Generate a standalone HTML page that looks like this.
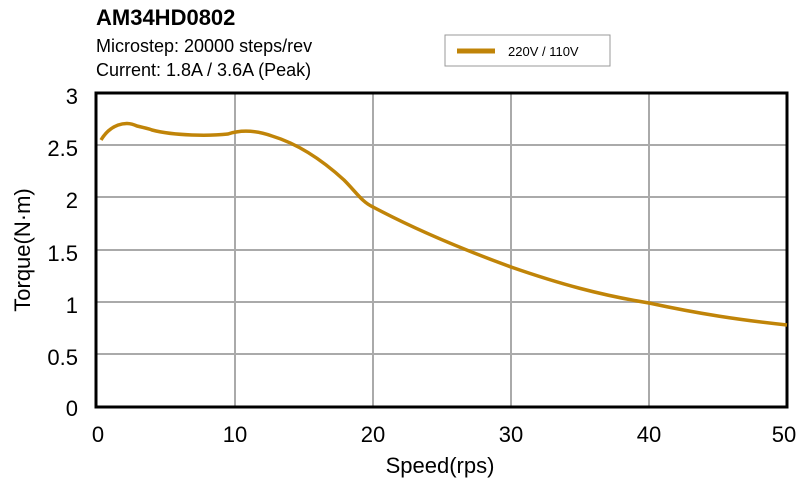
<!DOCTYPE html>
<html><head><style>body{margin:0;background:#fff}</style></head><body>
<svg width="800" height="488" xmlns="http://www.w3.org/2000/svg" font-family="Liberation Sans, sans-serif">
<rect width="800" height="488" fill="#fff"/>
<text x="96" y="25" font-size="22" font-weight="bold">AM34HD0802</text>
<text x="96" y="52" font-size="18">Microstep: 20000 steps/rev</text>
<text x="96" y="76" font-size="18">Current: 1.8A / 3.6A (Peak)</text>
<rect x="445" y="35" width="165" height="31" fill="#fff" stroke="#999" stroke-width="1"/>
<line x1="457" y1="51" x2="495" y2="51" stroke="#c08408" stroke-width="5"/>
<text x="508" y="56" font-size="13">220V / 110V</text>
<g stroke="#aaa" stroke-width="2">
<line x1="235" y1="93" x2="235" y2="407"/><line x1="373" y1="93" x2="373" y2="407"/>
<line x1="511" y1="93" x2="511" y2="407"/><line x1="649" y1="93" x2="649" y2="407"/>
<line x1="97" y1="145" x2="787" y2="145"/><line x1="97" y1="197" x2="787" y2="197"/>
<line x1="97" y1="250" x2="787" y2="250"/><line x1="97" y1="302" x2="787" y2="302"/>
<line x1="97" y1="354" x2="787" y2="354"/>
</g>
<rect x="96" y="93" width="691" height="314" fill="none" stroke="#000" stroke-width="3"/>
<path d="M101,140 C110,125 125,120 137,126 C145,128 150,129 152,130 C175,136 210,136 228,134 C240,130 255,130 272,136 C295,143 320,158 344,180 C356,192 362,202 373,207 C420,232 470,252 511,267 C560,284 600,295 649,303 C700,314 740,320 787,325" fill="none" stroke="#c08408" stroke-width="3.5"/>
<g font-size="22" text-anchor="end">
<text x="78" y="104">3</text><text x="78" y="156">2.5</text><text x="78" y="208">2</text>
<text x="78" y="261">1.5</text><text x="78" y="313">1</text><text x="78" y="365">0.5</text><text x="78" y="416">0</text>
</g>
<g font-size="22" text-anchor="middle">
<text x="98" y="442">0</text><text x="235" y="442">10</text><text x="373" y="442">20</text>
<text x="511" y="442">30</text><text x="649" y="442">40</text><text x="784" y="442">50</text>
<text x="440" y="473">Speed(rps)</text>
</g>
<text transform="translate(30,250) rotate(-90)" font-size="22" text-anchor="middle">Torque(N·m)</text>
</svg>
</body></html>
